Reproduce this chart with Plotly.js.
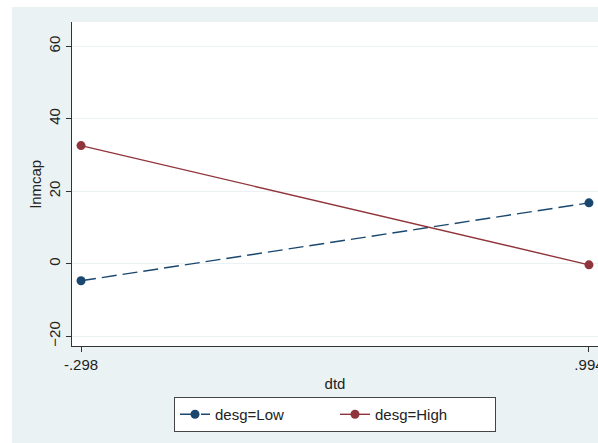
<!DOCTYPE html>
<html>
<head>
<meta charset="utf-8">
<script src="https://cdn.plot.ly/plotly-3.0.1.min.js"></script>
<style>
html, body { margin: 0; padding: 0; background: #ffffff; overflow: hidden; width: 598px; height: 443px; position: relative; }
#chart { position: absolute; left: 12px; top: 7px; width: 630px; height: 436px; }
</style>
</head>
<body>
<div id="chart"></div>
<script>
const xValues = [-0.298, 0.994];
const xTickLabels = ["-.298", ".994"];
const lowValues = [-4.7, 16.8];
const highValues = [32.6, -0.3];
const yTicks = [-20, 0, 20, 40, 60];
const seriesNames = ["desg=Low", "desg=High"];

const font = "Liberation Sans, Arial, sans-serif";

const traces = [
  {
    x: xValues, y: lowValues, name: seriesNames[0],
    type: "scatter", mode: "lines+markers",
    line: { color: "#1a476f", width: 1.4, dash: "15px,6px" },
    marker: { color: "#1a476f", size: 9 }
  },
  {
    x: xValues, y: highValues, name: seriesNames[1],
    type: "scatter", mode: "lines+markers",
    line: { color: "#90353b", width: 1.4 },
    marker: { color: "#90353b", size: 9 }
  }
];

const layout = {
  width: 630, height: 436,
  margin: { l: 60, r: 44, t: 15, b: 96 },
  paper_bgcolor: "#eaf2f3",
  plot_bgcolor: "#ffffff",
  font: { family: font, size: 15, color: "#000000" },
  showlegend: true,
  xaxis: {
    range: [-0.321, 1.017],
    tickvals: xValues, ticktext: xTickLabels,
    ticklabeloverflow: "allow",
    ticks: "outside", ticklen: 5, tickwidth: 1, tickcolor: "#333333",
    showgrid: false, zeroline: false,
    showline: true, linecolor: "#333333", linewidth: 1.2,
    tickfont: { family: font, size: 15, color: "#222222" },
    title: { text: "dtd", font: { family: font, size: 15, color: "#222222" }, standoff: 6 }
  },
  yaxis: {
    range: [-22.7, 66.7],
    tickvals: yTicks,
    tickangle: -90,
    ticks: "outside", ticklen: 5, tickwidth: 1, tickcolor: "#333333",
    showgrid: true, gridcolor: "#eaf2f3", gridwidth: 1.2,
    zeroline: false,
    showline: true, linecolor: "#333333", linewidth: 1.2,
    tickfont: { family: font, size: 15, color: "#222222" },
    title: { text: "lnmcap", font: { family: font, size: 15, color: "#222222" }, standoff: 0 }
  },
  legend: {
    orientation: "h",
    x: 0.5, xanchor: "center",
    y: -0.154, yanchor: "top",
    bgcolor: "#ffffff",
    bordercolor: "#444444", borderwidth: 1,
    font: { family: font, size: 15, color: "#222222" },
    entrywidth: 115,
    traceorder: "normal"
  }
};

Plotly.newPlot("chart", traces, layout, { displayModeBar: false, staticPlot: true });
</script>
</body>
</html>
